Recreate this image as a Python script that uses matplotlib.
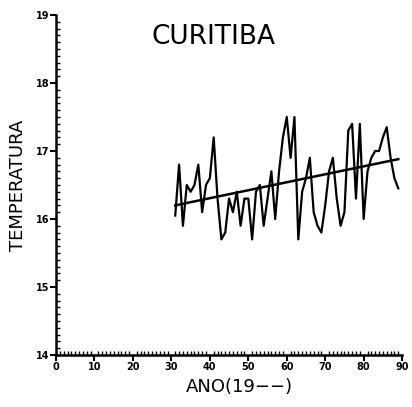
import numpy as np
import matplotlib.pyplot as plt
from matplotlib.ticker import MultipleLocator

# annual mean temperature, Curitiba (years 19xx)
anos = list(range(31, 90))
temp = [16.05, 16.8, 15.9, 16.5, 16.4, 16.5, 16.8, 16.1, 16.5, 16.6,
        17.2, 16.3, 15.7, 15.8, 16.3, 16.1, 16.4, 15.9, 16.3, 16.3,
        15.7, 16.4, 16.5, 15.9, 16.3, 16.7, 16.0, 16.7, 17.2, 17.5,
        16.9, 17.5, 15.7, 16.4, 16.6, 16.9, 16.1, 15.9, 15.8, 16.2,
        16.7, 16.9, 16.3, 15.9, 16.1, 17.3, 17.4, 16.3, 17.4, 16.0,
        16.7, 16.9, 17.0, 17.0, 17.2, 17.35, 16.9, 16.6, 16.45]
# trend line end points
tend_x = [31, 89]
tend_y = [16.2, 16.88]

fig = plt.figure(figsize=(4.12, 4.07), dpi=100)
ax = fig.add_axes([0.136, 0.128, 0.84, 0.835])

ax.plot(anos, temp, color='black', linewidth=1.6)
ax.plot(tend_x, tend_y, color='black', linewidth=1.8)

ax.set_xlim(0, 90)
ax.set_ylim(14, 19)
ax.xaxis.set_major_locator(MultipleLocator(10))
ax.xaxis.set_minor_locator(MultipleLocator(1))
ax.yaxis.set_major_locator(MultipleLocator(1))
ax.yaxis.set_minor_locator(MultipleLocator(0.1))

for s in ['top', 'right']:
    ax.spines[s].set_visible(False)
for s in ['left', 'bottom']:
    ax.spines[s].set_linewidth(1.8)

ax.tick_params(which='major', direction='out', length=4, width=1.5, labelsize=7, pad=1)
ax.tick_params(which='minor', direction='in', length=3, width=1)
for lab in ax.get_xticklabels() + ax.get_yticklabels():
    lab.set_fontweight('bold')

ax.set_xlabel('ANO(19\u2212\u2212)', fontsize=13, labelpad=0)
ax.xaxis.set_label_coords(0.53, -0.068)
ax.set_ylabel('TEMPERATURA', fontsize=13, labelpad=6)
ax.text(0.455, 0.935, 'CURITIBA', transform=ax.transAxes, fontsize=19,
        ha='center', va='center')

fig.savefig('out.png', dpi=100)
